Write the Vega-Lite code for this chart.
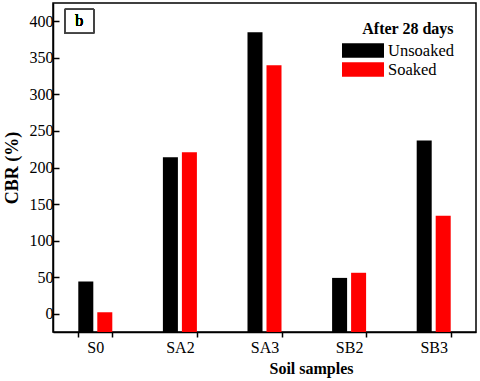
{
  "$schema": "https://vega.github.io/schema/vega-lite/v6.json",
  "autosize": {"type": "none"},
  "width": 423,
  "height": 329,
  "padding": {"left": 53, "top": 3, "right": 4, "bottom": 49},
  "background": "white",
  "config": {
    "font": "Liberation Serif, serif",
    "view": {"stroke": "black", "strokeWidth": 1.5},
    "axis": {"domainColor": "black", "domainWidth": 1.5, "tickColor": "black", "tickWidth": 1.5, "labelColor": "black", "titleColor": "black", "grid": false, "labelFont": "Liberation Serif, serif", "titleFont": "Liberation Serif, serif"}
  },
  "data": {
    "values": [
      {"sample": "S0", "condition": "Unsoaked", "cbr": 44},
      {"sample": "S0", "condition": "Soaked", "cbr": 2},
      {"sample": "SA2", "condition": "Unsoaked", "cbr": 214},
      {"sample": "SA2", "condition": "Soaked", "cbr": 221},
      {"sample": "SA3", "condition": "Unsoaked", "cbr": 385},
      {"sample": "SA3", "condition": "Soaked", "cbr": 340},
      {"sample": "SB2", "condition": "Unsoaked", "cbr": 49},
      {"sample": "SB2", "condition": "Soaked", "cbr": 56},
      {"sample": "SB3", "condition": "Unsoaked", "cbr": 237},
      {"sample": "SB3", "condition": "Soaked", "cbr": 134}
    ]
  },
  "layer": [
    {
      "mark": {"type": "bar"},
      "encoding": {
        "x": {
          "field": "sample", "type": "nominal", "sort": ["S0", "SA2", "SA3", "SB2", "SB3"],
          "scale": {"paddingInner": 0.598, "paddingOuter": 0.299},
          "axis": {"title": "Soil samples", "titleFontSize": 16, "titleFontWeight": "bold", "titleX": 258, "titleY": 28, "labelFontSize": 16, "labelAngle": 0, "tickBand": "extent", "tickSize": 5, "labelPadding": 2}
        },
        "xOffset": {"field": "condition", "type": "nominal", "sort": ["Unsoaked", "Soaked"], "scale": {"paddingInner": 0.21, "paddingOuter": 0}},
        "y": {
          "field": "cbr", "type": "quantitative",
          "scale": {"domain": [-25, 425], "nice": false, "zero": false},
          "axis": {
            "title": "CBR (%)", "titleFontSize": 18, "titleFontWeight": "bold", "titlePadding": 8,
            "values": [0, 25, 50, 75, 100, 125, 150, 175, 200, 225, 250, 275, 300, 325, 350, 375, 400],
            "labelExpr": "datum.value % 50 === 0 ? datum.label : ''",
            "labelFontSize": 16,
            "tickSize": {"condition": {"test": "datum.value % 50 === 0", "value": -6}, "value": -3},
            "labelPadding": 6
          }
        },
        "y2": {"datum": -25},
        "color": {
          "field": "condition", "type": "nominal", "sort": ["Unsoaked", "Soaked"],
          "scale": {"domain": ["Unsoaked", "Soaked"], "range": ["#000000", "#ff0000"]},
          "legend": {
            "title": "After 28 days", "orient": "none", "legendX": 299.5, "legendY": 18,
            "titleFontSize": 16, "titleFontWeight": "bold", "titleFont": "Liberation Serif, serif", "titleColor": "black", "titleAnchor": "end",
            "labelFontSize": 16.5, "labelFont": "Liberation Serif, serif", "labelColor": "black", "labelOffset": 14.5,
            "symbolType": "M-2,-0.7H2V0.7H-2Z", "symbolSize": 441, "symbolStrokeWidth": 0, "symbolOpacity": 1,
            "rowPadding": 0, "titlePadding": 3
          }
        }
      }
    },
    {
      "mark": {"type": "text", "fontSize": 16, "font": "Liberation Serif, serif", "fontWeight": "normal", "color": "black", "dx": -16},
      "encoding": {
        "x": {"datum": "S0", "type": "nominal"},
        "y": {"datum": 400, "type": "quantitative"},
        "text": {"value": "b"}
      }
    },
    {
      "mark": {"type": "point", "shape": "M-2.54,-1H-0.12V1H-2.54Z", "size": 576, "filled": false, "stroke": "#444444", "strokeWidth": 1, "opacity": 1},
      "encoding": {
        "x": {"datum": "S0", "type": "nominal"},
        "y": {"datum": 400, "type": "quantitative"}
      }
    }
  ]
}
